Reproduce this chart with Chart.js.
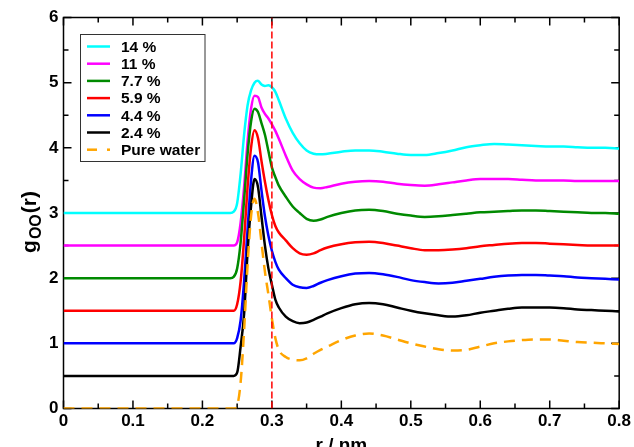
<!DOCTYPE html>
<html>
<head>
<meta charset="utf-8">
<script src="https://cdn.jsdelivr.net/npm/chart.js@4/dist/chart.umd.min.js"></script>
<style>
html,body{margin:0;padding:0;background:#fff;}
#wrap{width:634px;height:447px;position:relative;}
</style>
</head>
<body>
<div id="wrap"><canvas id="c" width="634" height="447"></canvas></div>
<script>
// r / nm
const r = [0, 0.1, 0.2, 0.235, 0.24, 0.245, 0.25, 0.255, 0.26, 0.265, 0.27, 0.275, 0.28, 0.285, 0.29, 0.295, 0.3, 0.305, 0.31, 0.32, 0.33, 0.34, 0.35, 0.36, 0.37, 0.38, 0.4, 0.42, 0.44, 0.46, 0.48, 0.5, 0.52, 0.54, 0.56, 0.58, 0.6, 0.62, 0.64, 0.66, 0.68, 0.7, 0.72, 0.74, 0.76, 0.78, 0.8];

const g14 = [3, 3, 3, 3, 3.0, 3.02, 3.15, 3.6, 4.2, 4.65, 4.88, 5.0, 5.03, 4.97, 4.95, 4.96, 4.93, 4.86, 4.73, 4.45, 4.23, 4.07, 3.96, 3.91, 3.9, 3.91, 3.94, 3.96, 3.96, 3.94, 3.91, 3.89, 3.89, 3.92, 3.96, 4.01, 4.04, 4.06, 4.05, 4.04, 4.03, 4.02, 4.02, 4.01, 4.0, 4.0, 3.99];
const g11 = [2.5, 2.5, 2.5, 2.5, 2.5, 2.5, 2.55, 2.85, 3.4, 4.1, 4.6, 4.8, 4.78, 4.62, 4.52, 4.45, 4.36, 4.26, 4.14, 3.88, 3.65, 3.52, 3.44, 3.39, 3.38, 3.4, 3.45, 3.48, 3.49, 3.48, 3.45, 3.43, 3.42, 3.44, 3.47, 3.5, 3.52, 3.52, 3.52, 3.51, 3.5, 3.5, 3.5, 3.49, 3.49, 3.49, 3.49];
const g77 = [2, 2, 2, 2, 2.0, 2.02, 2.15, 2.55, 3.2, 3.9, 4.4, 4.6, 4.55, 4.38, 4.2, 3.95, 3.7, 3.55, 3.42, 3.25, 3.1, 3.0, 2.91, 2.88, 2.9, 2.94, 3.0, 3.04, 3.05, 3.03, 2.99, 2.96, 2.94, 2.95, 2.97, 2.99, 3.01, 3.02, 3.03, 3.04, 3.04, 3.03, 3.02, 3.01, 3.0, 3.0, 2.99];
const g59 = [1.5, 1.5, 1.5, 1.5, 1.5, 1.5, 1.6, 1.95, 2.6, 3.4, 4.0, 4.27, 4.15, 3.8, 3.48, 3.2, 2.97, 2.8, 2.7, 2.58, 2.46, 2.38, 2.36, 2.38, 2.43, 2.47, 2.52, 2.55, 2.56, 2.54, 2.5, 2.46, 2.43, 2.43, 2.44, 2.46, 2.49, 2.51, 2.53, 2.54, 2.54, 2.53, 2.52, 2.51, 2.5, 2.5, 2.5];
const g44 = [1, 1, 1, 1, 1, 1.0, 1.08, 1.35, 1.95, 2.75, 3.5, 3.88, 3.78, 3.35, 2.95, 2.65, 2.42, 2.25, 2.13, 2.0, 1.9, 1.86, 1.85, 1.88, 1.93, 1.97, 2.03, 2.07, 2.08, 2.06, 2.02, 1.97, 1.94, 1.92, 1.93, 1.96, 1.99, 2.02, 2.04, 2.05, 2.05, 2.04, 2.03, 2.01, 2.0, 1.99, 1.98];
const g24 = [0.5, 0.5, 0.5, 0.5, 0.5, 0.5, 0.55, 0.95, 1.45, 2.4, 3.1, 3.52, 3.4, 2.95, 2.5, 2.15, 1.9, 1.67, 1.55, 1.41, 1.34, 1.31, 1.32, 1.36, 1.41, 1.46, 1.54, 1.6, 1.62, 1.6, 1.55, 1.5, 1.46, 1.43, 1.41, 1.43, 1.47, 1.5, 1.53, 1.55, 1.55, 1.55, 1.54, 1.52, 1.51, 1.5, 1.49];
const gPure = [0, 0, 0, 0, 0, 0, 0.05, 0.4, 1.2, 2.2, 2.95, 3.22, 3.0, 2.55, 2.1, 1.75, 1.38, 1.08, 0.9, 0.79, 0.75, 0.74, 0.77, 0.84, 0.9, 0.95, 1.05, 1.12, 1.15, 1.12, 1.06, 1.0, 0.95, 0.91, 0.89, 0.9, 0.95, 1.0, 1.03, 1.05, 1.06, 1.06, 1.04, 1.02, 1.01, 1.0, 0.99];

// vertical reference line at r = 0.3 nm
const refLineR = [0.3, 0.3];
const refLineG = [0, 6];

const seriesLabels = ['14 %', '11 %', '7.7 %', '5.9 %', '4.4 %', '2.4 %', 'Pure water'];
const seriesValues = [g14, g11, g77, g59, g44, g24, gPure];
const seriesColors = ['#00ffff', '#ff00ff', '#008a00', '#ff0000', '#0000ff', '#000000', '#ffa500'];

const xTicks = [0, 0.1, 0.2, 0.3, 0.4, 0.5, 0.6, 0.7, 0.8];
const yTicks = [0, 1, 2, 3, 4, 5, 6];

const FONT = '"Liberation Sans", Arial, Helvetica, sans-serif';
const PURE_DASH = [11, 7];

const datasets = seriesValues.map((vals, i) => ({
  label: seriesLabels[i],
  data: r.map((x, j) => ({x: x, y: vals[j]})),
  borderColor: seriesColors[i],
  backgroundColor: seriesColors[i],
  borderWidth: 2.5,
  borderDash: i === 6 ? PURE_DASH : [],
  pointRadius: 0,
  cubicInterpolationMode: 'monotone',
  fill: false,
  isSeries: true,
  order: 10 - i
}));
datasets.push({
  label: 'ref',
  data: refLineR.map((x, j) => ({x: x, y: refLineG[j]})),
  borderColor: '#ff0000',
  borderWidth: 1.5,
  borderDash: [7, 3],
  pointRadius: 0,
  fill: false,
  isSeries: false,
  order: 0
});

const decor = {
  id: 'decor',
  beforeDatasetsDraw(chart) {
    const ctx = chart.ctx;
    const a = chart.chartArea;
    const xs = chart.scales.x, ys = chart.scales.y;
    ctx.save();
    ctx.strokeStyle = '#000';
    ctx.lineWidth = 1.5;
    ctx.setLineDash([]);
    ctx.strokeRect(a.left, a.top, a.right - a.left, a.bottom - a.top);
    ctx.beginPath();
    for (let k = 0; k <= 16; k++) {
      const v = k * 0.05;
      const px = xs.getPixelForValue(v);
      const L = (k % 2 === 0) ? 8 : 5;
      ctx.moveTo(px, a.bottom); ctx.lineTo(px, a.bottom - L);
      ctx.moveTo(px, a.top); ctx.lineTo(px, a.top + L);
    }
    for (let k = 0; k <= 12; k++) {
      const v = k * 0.5;
      const py = ys.getPixelForValue(v);
      const L = (k % 2 === 0) ? 8 : 5;
      ctx.moveTo(a.left, py); ctx.lineTo(a.left + L, py);
      ctx.moveTo(a.right, py); ctx.lineTo(a.right - L, py);
    }
    ctx.stroke();
    ctx.restore();
  },
  afterDraw(chart) {
    const ctx = chart.ctx;
    const a = chart.chartArea;
    ctx.save();
    // legend
    const lx = 80.5, ly = 34.5, lw = 124.5, lh = 127;
    ctx.fillStyle = '#fff';
    ctx.fillRect(lx, ly, lw, lh);
    ctx.strokeStyle = '#333';
    ctx.lineWidth = 1;
    ctx.strokeRect(lx, ly, lw, lh);
    ctx.font = 'bold 15.5px ' + FONT;
    ctx.textBaseline = 'middle';
    ctx.textAlign = 'left';
    let row = 0;
    chart.data.datasets.forEach(ds => {
      if (!ds.isSeries) return;
      const y = 46.5 + row * 17.2;
      ctx.strokeStyle = ds.borderColor;
      ctx.lineWidth = 2.5;
      ctx.setLineDash(ds.borderDash && ds.borderDash.length ? [10, 10] : []);
      ctx.beginPath();
      ctx.moveTo(87, y); ctx.lineTo(110, y);
      ctx.stroke();
      ctx.setLineDash([]);
      ctx.fillStyle = '#000';
      ctx.fillText(ds.label, 121, y + 1);
      row++;
    });

    // x title
    ctx.fillStyle = '#000';
    ctx.font = 'bold 19px ' + FONT;
    ctx.textAlign = 'center';
    ctx.textBaseline = 'alphabetic';
    ctx.fillText('r / nm', (a.left + a.right) / 2, 451);

    // y title g_OO(r), rotated
    ctx.translate(36, (a.top + a.bottom) / 2 + 9);
    ctx.rotate(-Math.PI / 2);
    ctx.textAlign = 'left';
    const fMain = 'bold 21px ' + FONT, fSub = 'bold 16px ' + FONT;
    ctx.font = fMain;
    const wg = ctx.measureText('g').width;
    ctx.font = fSub;
    const wo = ctx.measureText('OO').width;
    ctx.font = fMain;
    const wr = ctx.measureText('(r)').width;
    const total = wg + wo + wr + 2;
    const x0 = -total / 2;
    ctx.fillText('g', x0, 0);
    ctx.font = fSub;
    ctx.fillText('OO', x0 + wg + 1, 5);
    ctx.font = fMain;
    ctx.fillText('(r)', x0 + wg + wo + 2, 0);
    ctx.restore();
  }
};

new Chart(document.getElementById('c'), {
  type: 'line',
  data: { datasets: datasets },
  options: {
    responsive: false,
    animation: false,
    devicePixelRatio: 1,
    layout: { padding: { top: 17.5, right: 12.5, left: 0, bottom: 0 } },
    plugins: { legend: { display: false }, tooltip: { enabled: false } },
    scales: {
      x: {
        type: 'linear', min: 0, max: 0.8,
        afterFit(s) { s.height = 38.5; },
        afterBuildTicks(s) { s.ticks = xTicks.map(v => ({value: v})); },
        grid: { display: false, drawTicks: false },
        border: { display: false },
        ticks: {
          padding: 3, color: '#000', maxRotation: 0, autoSkip: false,
          font: { family: FONT, size: 17, weight: 'bold' },
          callback: v => String(Math.round(v * 10) / 10)
        }
      },
      y: {
        type: 'linear', min: 0, max: 6,
        afterFit(s) { s.width = 63.5; },
        afterBuildTicks(s) { s.ticks = yTicks.map(v => ({value: v})); },
        grid: { display: false, drawTicks: false },
        border: { display: false },
        ticks: {
          padding: 5, color: '#000', autoSkip: false,
          font: { family: FONT, size: 17, weight: 'bold' },
          callback: v => String(v)
        }
      }
    }
  },
  plugins: [decor]
});
</script>
</body>
</html>
